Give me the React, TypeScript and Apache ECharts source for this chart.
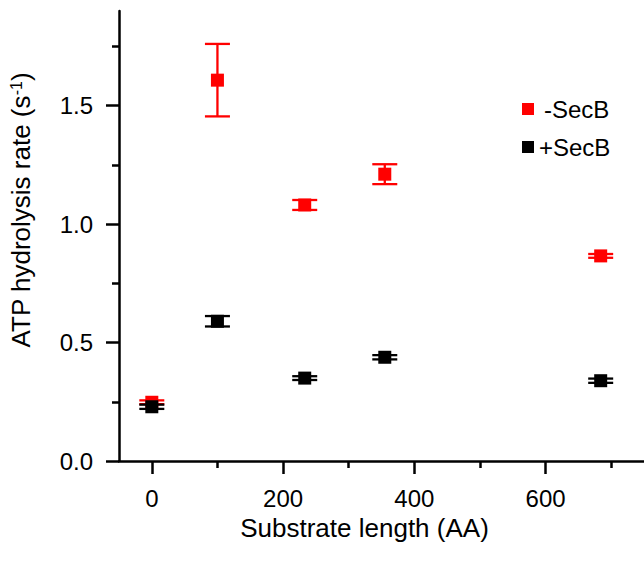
import React, { useEffect, useRef } from "react";
import * as echarts from "echarts";

const lengths = [0, 100, 233, 355, 684];
const minusSecB = [0.248, 1.608, 1.081, 1.211, 0.866];
const minusSecBErr = [0.008, 0.153, 0.021, 0.042, 0.008];
const plusSecB = [0.229, 0.59, 0.35, 0.438, 0.339];
const plusSecBErr = [0.009, 0.022, 0.008, 0.009, 0.009];

const xMajorTicks = [0, 200, 400, 600];
const xMinorTicks = [100, 300, 500, 700];
const yMajorTicks = [0, 0.5, 1.0, 1.5];
const yMinorTicks = [0.25, 0.75, 1.25, 1.75];

const FONT = "'Liberation Sans', Arial, Helvetica, sans-serif";
const RED = "#ff0000";
const BLACK = "#000000";

function errData(xs: number[], ys: number[], es: number[]) {
  return xs.map((x, i) => [x, ys[i] - es[i], ys[i] + es[i]]);
}

function makeErrRender(color: string) {
  return (params: any, api: any) => {
    const x = api.value(0);
    const lo = api.coord([x, api.value(1)]);
    const hi = api.coord([x, api.value(2)]);
    const hw = 12.5;
    const style = { stroke: color, lineWidth: 2.3 };
    return {
      type: "group",
      children: [
        { type: "line", shape: { x1: hi[0], y1: hi[1], x2: lo[0], y2: lo[1] }, style },
        { type: "line", shape: { x1: hi[0] - hw, y1: hi[1], x2: hi[0] + hw, y2: hi[1] }, style },
        { type: "line", shape: { x1: lo[0] - hw, y1: lo[1], x2: lo[0] + hw, y2: lo[1] }, style },
      ],
    };
  };
}

export default function App() {
  const ref = useRef<HTMLDivElement>(null);
  useEffect(() => {
    if (!ref.current) return;
    const chart = echarts.init(ref.current, null, { renderer: "svg" });
    const axisLineStyle = { color: BLACK, width: 2.5 };
    chart.setOption({
      animation: false,
      backgroundColor: "#ffffff",
      textStyle: { fontFamily: FONT },
      grid: { left: 113.5, right: 0, top: 11, bottom: 100, containLabel: false },
      legend: {
        orient: "vertical",
        left: 517,
        top: 92,
        itemGap: 14,
        itemWidth: 12,
        itemHeight: 12,
        icon: "rect",
        data: ["-SecB", "+SecB"],
        formatter: (name: string) => (name === "-SecB" ? "{m|" + name + "}" : "{p|" + name + "}"),
        textStyle: {
          fontFamily: FONT,
          fontSize: 24,
          color: BLACK,
          rich: {
            m: { fontFamily: FONT, fontSize: 24, color: BLACK, padding: [0, 0, 0, 5] },
            p: { fontFamily: FONT, fontSize: 24, color: BLACK },
          },
        },
      },
      xAxis: [
        {
          type: "value",
          min: -50,
          max: 750,
          position: "bottom",
          name: "Substrate length (AA)",
          nameLocation: "middle",
          nameGap: 42,
          nameTextStyle: { fontFamily: FONT, fontSize: 26, color: BLACK, padding: [0, 34, 0, 0] },
          axisLine: { show: true, onZero: false, lineStyle: axisLineStyle },
          axisTick: { show: true, length: 13, lineStyle: { color: BLACK, width: 2.5 }, customValues: xMajorTicks },
          axisLabel: { show: true, fontFamily: FONT, fontSize: 24, color: BLACK, margin: 25, customValues: xMajorTicks },
          splitLine: { show: false },
        },
        {
          type: "value",
          min: -50,
          max: 750,
          position: "bottom",
          axisLine: { show: false, onZero: false },
          axisTick: { show: true, length: 7, lineStyle: { color: BLACK, width: 2.5 }, customValues: xMinorTicks },
          axisLabel: { show: false },
          splitLine: { show: false },
        },
      ],
      yAxis: [
        {
          type: "value",
          min: 0,
          max: 1.9,
          position: "left",
          name: "{a|ATP hydrolysis rate (s}{b|-1}{a|)}",
          nameLocation: "middle",
          nameGap: 85,
          nameRotate: 90,
          nameTextStyle: {
            fontFamily: FONT,
            fontSize: 26,
            color: BLACK,
            padding: [0, 0, 0, 52],
            rich: {
              a: { fontFamily: FONT, fontSize: 26, color: BLACK },
              b: { fontFamily: FONT, fontSize: 16, color: BLACK, verticalAlign: "top" },
            },
          },
          axisLine: { show: true, onZero: false, lineStyle: axisLineStyle },
          axisTick: { show: true, length: 13, lineStyle: { color: BLACK, width: 2.5 }, customValues: yMajorTicks },
          axisLabel: {
            show: true,
            fontFamily: FONT,
            fontSize: 24,
            color: BLACK,
            margin: 26,
            customValues: yMajorTicks,
            formatter: (v: number) => v.toFixed(1),
          },
          splitLine: { show: false },
        },
        {
          type: "value",
          min: 0,
          max: 1.9,
          position: "left",
          axisLine: { show: false, onZero: false },
          axisTick: { show: true, length: 7, lineStyle: { color: BLACK, width: 2.5 }, customValues: yMinorTicks },
          axisLabel: { show: false },
          splitLine: { show: false },
        },
      ],
      series: [
        {
          type: "custom",
          name: "errMinus",
          xAxisIndex: 0,
          yAxisIndex: 0,
          renderItem: makeErrRender(RED),
          data: errData(lengths, minusSecB, minusSecBErr),
          z: 2,
        },
        {
          type: "scatter",
          name: "-SecB",
          xAxisIndex: 0,
          yAxisIndex: 0,
          symbol: "rect",
          symbolSize: 13,
          itemStyle: { color: RED, opacity: 1 },
          data: lengths.map((x, i) => [x, minusSecB[i]]),
          z: 3,
        },
        {
          type: "custom",
          name: "errPlus",
          xAxisIndex: 0,
          yAxisIndex: 0,
          renderItem: makeErrRender(BLACK),
          data: errData(lengths, plusSecB, plusSecBErr),
          z: 4,
        },
        {
          type: "scatter",
          name: "+SecB",
          xAxisIndex: 0,
          yAxisIndex: 0,
          symbol: "rect",
          symbolSize: 13,
          itemStyle: { color: BLACK, opacity: 1 },
          data: lengths.map((x, i) => [x, plusSecB[i]]),
          z: 5,
        },
      ],
    });
    return () => chart.dispose();
  }, []);
  return <div ref={ref} style={{ width: 644, height: 561, position: "absolute", left: 0, top: 0 }} />;
}
